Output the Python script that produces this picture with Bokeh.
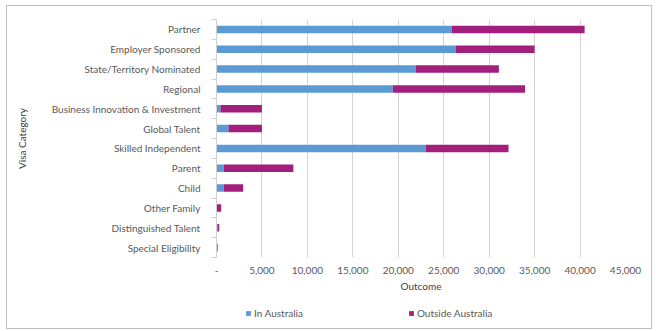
from bokeh.plotting import figure
from bokeh.layouts import column
from bokeh.models import (Range1d, FixedTicker, Legend, LegendItem, CustomJSTickFormatter)
from bokeh.embed import file_html
from bokeh.resources import INLINE

categories = ["Partner", "Employer Sponsored", "State/Territory Nominated", "Regional",
              "Business Innovation & Investment", "Global Talent", "Skilled Independent",
              "Parent", "Child", "Other Family", "Distinguished Talent", "Special Eligibility"]
in_australia = [25900, 26300, 21950, 19400, 440, 1320, 23050, 810, 810, 10, 100, 100]
outside_australia = [14600, 8700, 9120, 14550, 4560, 3680, 9080, 7650, 2130, 500, 200, 60]
x_ticks = [0, 5000, 10000, 15000, 20000, 25000, 30000, 35000, 40000, 45000]
series_names = ["In Australia", "Outside Australia"]

BLUE = "#5B9BD5"
PURPLE = "#A21F7D"
FONT = "Lato"
FS = "10px"
GREY = "#595959"

idx = list(range(len(categories)))
left2 = in_australia
right2 = [a + b for a, b in zip(in_australia, outside_australia)]

p = figure(width=644, height=295, output_backend="svg", toolbar_location=None,
           x_range=Range1d(0, 45000), y_range=Range1d(len(categories) - 0.5, -0.5),
           min_border_left=209, min_border_right=26, min_border_top=13, min_border_bottom=44,
           outline_line_color=None)

r1 = p.hbar(y=idx, left=0, right=in_australia, height=0.38, color=BLUE, line_color=None)
r2 = p.hbar(y=idx, left=left2, right=right2, height=0.38, color=PURPLE, line_color=None)

# x axis
xa = p.xaxis[0]
xa.ticker = FixedTicker(ticks=x_ticks)
xa.formatter = CustomJSTickFormatter(code="return tick == 0 ? '-' : tick.toLocaleString('en-US');")
xa.axis_line_color = None
xa.major_tick_line_color = None
xa.minor_tick_line_color = None
xa.major_label_text_font = FONT
xa.major_label_text_font_size = FS
xa.major_label_text_color = GREY
xa.major_label_standoff = 3
xa.axis_label = "Outcome"
xa.axis_label_text_font = FONT
xa.axis_label_text_font_size = FS
xa.axis_label_text_font_style = "normal"
xa.axis_label_text_color = "#404040"
xa.axis_label_standoff = 3

# y axis
ya = p.yaxis[0]
ya.ticker = FixedTicker(ticks=idx, minor_ticks=[i - 0.5 for i in range(len(categories) + 1)])
ya.major_label_overrides = {i: c for i, c in enumerate(categories)}
ya.axis_line_color = "#d0d0d0"
ya.major_tick_line_color = None
ya.major_tick_out = 0
ya.major_tick_in = 0
ya.minor_tick_line_color = "#d0d0d0"
ya.minor_tick_out = 5
ya.minor_tick_in = 0
ya.major_label_text_font = FONT
ya.major_label_text_font_size = FS
ya.major_label_text_color = GREY
ya.major_label_standoff = 11
ya.axis_label = "Visa Category"
ya.axis_label_text_font = FONT
ya.axis_label_text_font_size = FS
ya.axis_label_text_font_style = "normal"
ya.axis_label_text_color = "#404040"
ya.axis_label_standoff = 21

p.ygrid.grid_line_color = None
p.xgrid.grid_line_color = "#d4d4d4"
p.xgrid.grid_line_width = 1
p.xgrid.ticker = FixedTicker(ticks=x_ticks)

# legend strip (its frame is aligned with the main plot's frame by the column layout)
lp = figure(width=644, height=27, output_backend="svg", toolbar_location=None,
            x_range=Range1d(0, 1), y_range=Range1d(0, 1),
            min_border_left=0, min_border_right=0, min_border_top=0, min_border_bottom=0,
            x_axis_location=None, y_axis_location=None, outline_line_color=None)
lp.grid.visible = False
# legend-only renderers: zero-width bars placed outside the visible range
lr1 = lp.hbar(y=[-5], left=[0], right=[0], height=0.1, color=BLUE, line_color=None)
lr2 = lp.hbar(y=[-5], left=[0], right=[0], height=0.1, color=PURPLE, line_color=None)
legend = Legend(items=[LegendItem(label=series_names[0], renderers=[lr1]),
                       LegendItem(label=series_names[1], renderers=[lr2])],
                orientation="horizontal", spacing=105, location=(29, 9),
                border_line_color=None, background_fill_alpha=0, padding=0, margin=0,
                glyph_width=6, glyph_height=6, label_standoff=3, label_height=12,
                label_text_font=FONT, label_text_font_size=FS, label_text_color=GREY)
lp.add_layout(legend, "center")

layout = column(p, lp, spacing=0, margin=(5, 0, 0, 6),
                styles={"border": "1px solid #bfbfbf"})

open("out.html", "w").write(file_html(layout, INLINE))
